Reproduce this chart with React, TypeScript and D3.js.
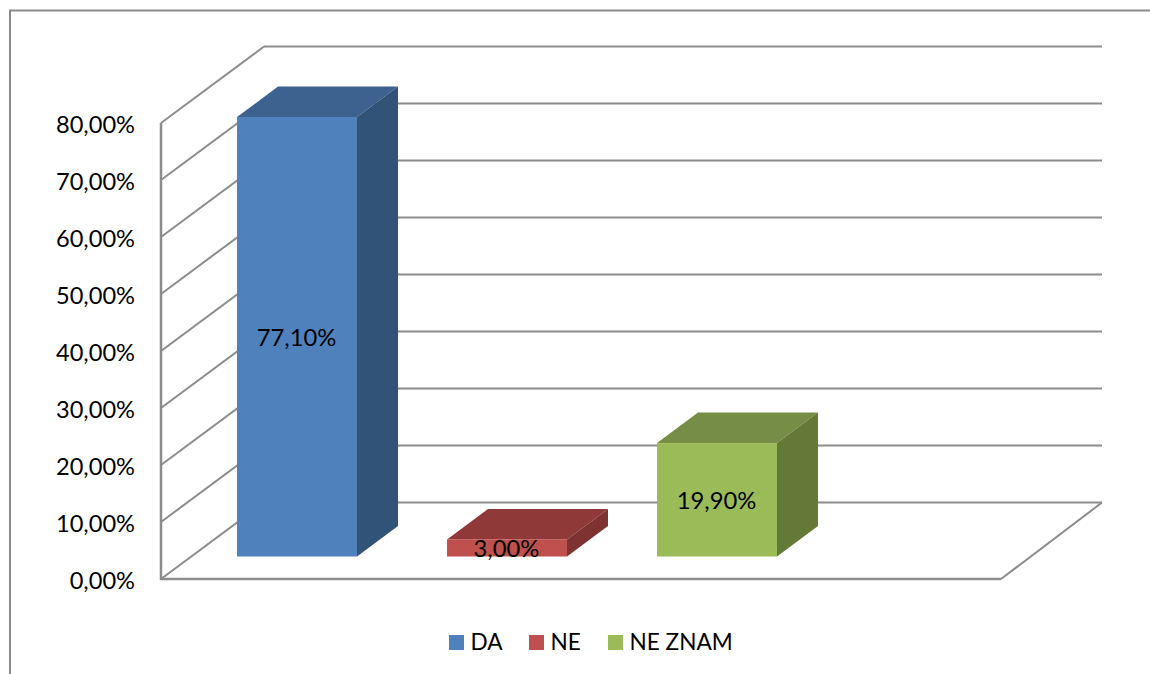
import React from "react";
import * as d3 from "d3";

const categories = ["DA", "NE", "NE ZNAM"];
const values = [77.1, 3.0, 19.9];
const valueLabels = ["77,10%", "3,00%", "19,90%"];
const axisTicks = [0, 10, 20, 30, 40, 50, 60, 70, 80];
const axisTickLabels = ["0,00%", "10,00%", "20,00%", "30,00%", "40,00%", "50,00%", "60,00%", "70,00%", "80,00%"];
const frontColors = ["#4F81BD", "#C0504D", "#9BBB59"];
const topColors = ["#3D628F", "#8F3A39", "#758D44"];
const sideColors = ["#325378", "#7E3331", "#647838"];
const legendSwatchX = [449, 529, 608];

const FONT = "Lato, Carlito, 'Open Sans', sans-serif";
const GRID = "#8C8C8C";

const y = d3.scaleLinear().domain([0, 80]).range([579, 123]);
const x = d3.scaleBand<string>().domain([...categories, ""]).range([161, 1001]);
const wallDx = 103;
const wallDy = -76.5;
const barDx = 41;
const barDy = -30.5;
const barFloor = 22.5;
const barInset = 76;
const barWidth = 120;

const pts = (p: [number, number][]) => d3.line()(p) + "Z";

export default function App() {
  return (
    <svg width={1150} height={674} style={{ position: "absolute", left: 0, top: 0, background: "#fff" }} fontFamily={FONT}>
      <path d="M10,674V10.5H1150" fill="none" stroke="#8A8A8A" strokeWidth={2} />

      {axisTicks.map((t) => (
        <g key={t} stroke={GRID} strokeWidth={2} fill="none">
          <line x1={161} y1={y(t)} x2={161 + wallDx} y2={y(t) + wallDy} />
          <line x1={161 + wallDx} y1={y(t) + wallDy} x2={1102} y2={y(t) + wallDy} />
        </g>
      ))}
      <line x1={161} y1={y(80)} x2={161} y2={y(0) + 1} stroke={GRID} strokeWidth={2.5} />
      <line x1={160} y1={y(0)} x2={1001} y2={y(0)} stroke={GRID} strokeWidth={2.5} />
      <line x1={1001} y1={y(0)} x2={1102} y2={y(0) + wallDy} stroke={GRID} strokeWidth={2} />

      {axisTicks.map((t, i) => (
        <text key={t} x={135} y={y(t) + 10} textAnchor="end" fontSize={23.6} fill="#000">
          {axisTickLabels[i]}
        </text>
      ))}

      {categories.map((c, i) => {
        const x0 = (x(c) as number) + barInset;
        const x1 = x0 + barWidth;
        const base = y(0) - barFloor;
        const top = base - (y(0) - y(values[i]));
        return (
          <g key={c}>
            <path d={pts([[x0, top], [x1, top], [x1 + barDx, top + barDy], [x0 + barDx, top + barDy]])} fill={topColors[i]} />
            <path d={pts([[x1, top], [x1 + barDx, top + barDy], [x1 + barDx, base + barDy], [x1, base]])} fill={sideColors[i]} />
            <rect x={x0} y={top} width={barWidth} height={base - top} fill={frontColors[i]} />
            <text x={x0 + barWidth / 2 - 0.5} y={(top + base) / 2 + 9.5} textAnchor="middle" fontSize={23.8} fill="#000">
              {valueLabels[i]}
            </text>
          </g>
        );
      })}

      {categories.map((c, i) => (
        <g key={c}>
          <rect x={legendSwatchX[i]} y={635} width={15} height={15} fill={frontColors[i]} />
          <text x={legendSwatchX[i] + 21.5} y={650} fontSize={22.6} fill="#000">{c}</text>
        </g>
      ))}
    </svg>
  );
}
